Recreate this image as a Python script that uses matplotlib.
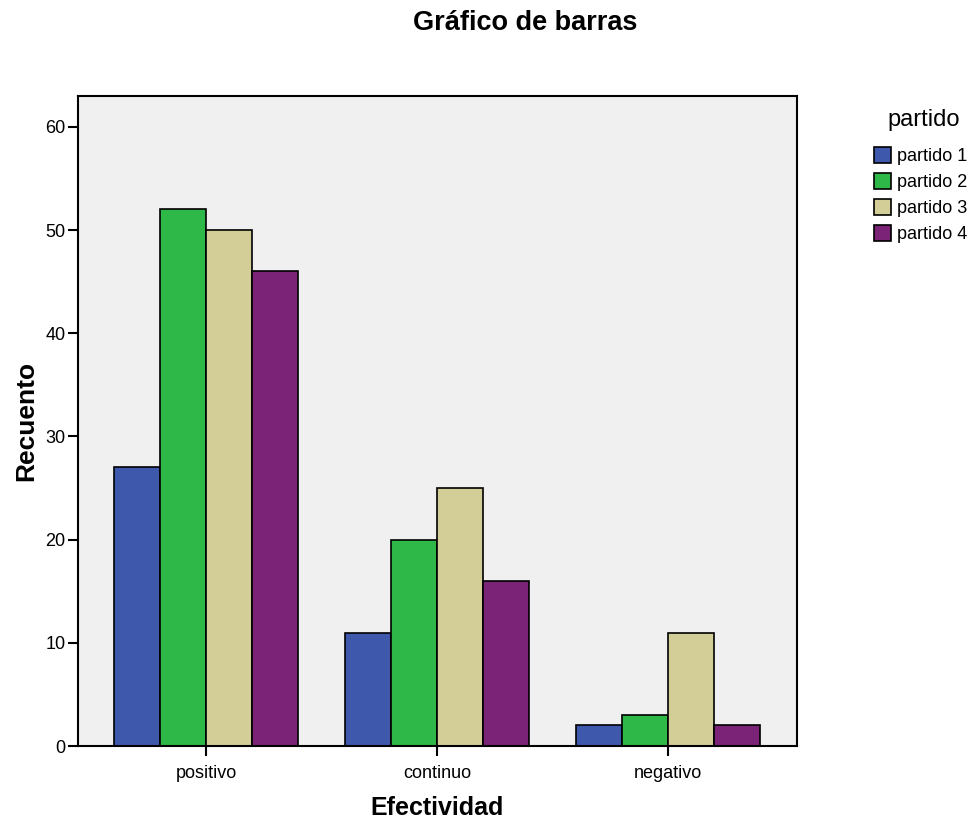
import numpy as np
import matplotlib.pyplot as plt
from matplotlib.patches import Patch

plt.rcParams['font.family'] = ['Liberation Sans', 'DejaVu Sans']

categorias = ['positivo', 'continuo', 'negativo']
series = ['partido 1', 'partido 2', 'partido 3', 'partido 4']
partido_1 = [27, 11, 2]
partido_2 = [52, 20, 3]
partido_3 = [50, 25, 11]
partido_4 = [46, 16, 2]
colores = ['#3E58AC', '#2EB848', '#D3CE97', '#7B2376']

fig = plt.figure(figsize=(9.78, 8.22), dpi=100)
ax = fig.add_axes([78 / 978, 1 - 746 / 822, (797 - 78) / 978, (746 - 96) / 822])
ax.set_facecolor('#F0F0F0')

x = np.arange(len(categorias))
w = 0.2
valores = [partido_1, partido_2, partido_3, partido_4]
for i, (vals, c) in enumerate(zip(valores, colores)):
    ax.bar(x + (i - 1.5) * w, vals, w, color=c, edgecolor='black', linewidth=1.2, zorder=2)

ax.set_xlim(-0.554, 2.558)
ax.set_ylim(0, 63)
ax.set_yticks([0, 10, 20, 30, 40, 50, 60])
ax.set_xticks(x)
ax.set_xticklabels(categorias)
ax.tick_params(axis='both', direction='out', length=7, width=1.5, labelsize=13, colors='black')
ax.tick_params(axis='x', pad=7)
ax.tick_params(axis='y', pad=2)
for s in ax.spines.values():
    s.set_linewidth(1.5)

ax.set_xlabel('Efectividad', fontsize=18, fontweight='bold', labelpad=10)
ax.set_ylabel('Recuento', fontsize=19, fontweight='bold', labelpad=5)
fig.text(525 / 978, 1 - 23 / 822, 'Gráfico de barras', fontsize=19.5, fontweight='bold',
         ha='center', va='center')

# legend title placed separately
fig.text(924 / 978, 1 - 120 / 822, 'partido', fontsize=17, ha='center', va='center')
handles = [Patch(facecolor=c, edgecolor='black', linewidth=1.2) for c in colores]
leg = fig.legend(handles, series, loc='upper left',
                 bbox_to_anchor=(874 / 978, 1 - 147 / 822), frameon=False,
                 fontsize=13, handlelength=0.95, handleheight=1.0,
                 handletextpad=0.35, labelspacing=0.42, borderpad=0, borderaxespad=0)

fig.savefig('out.png', dpi=100)
